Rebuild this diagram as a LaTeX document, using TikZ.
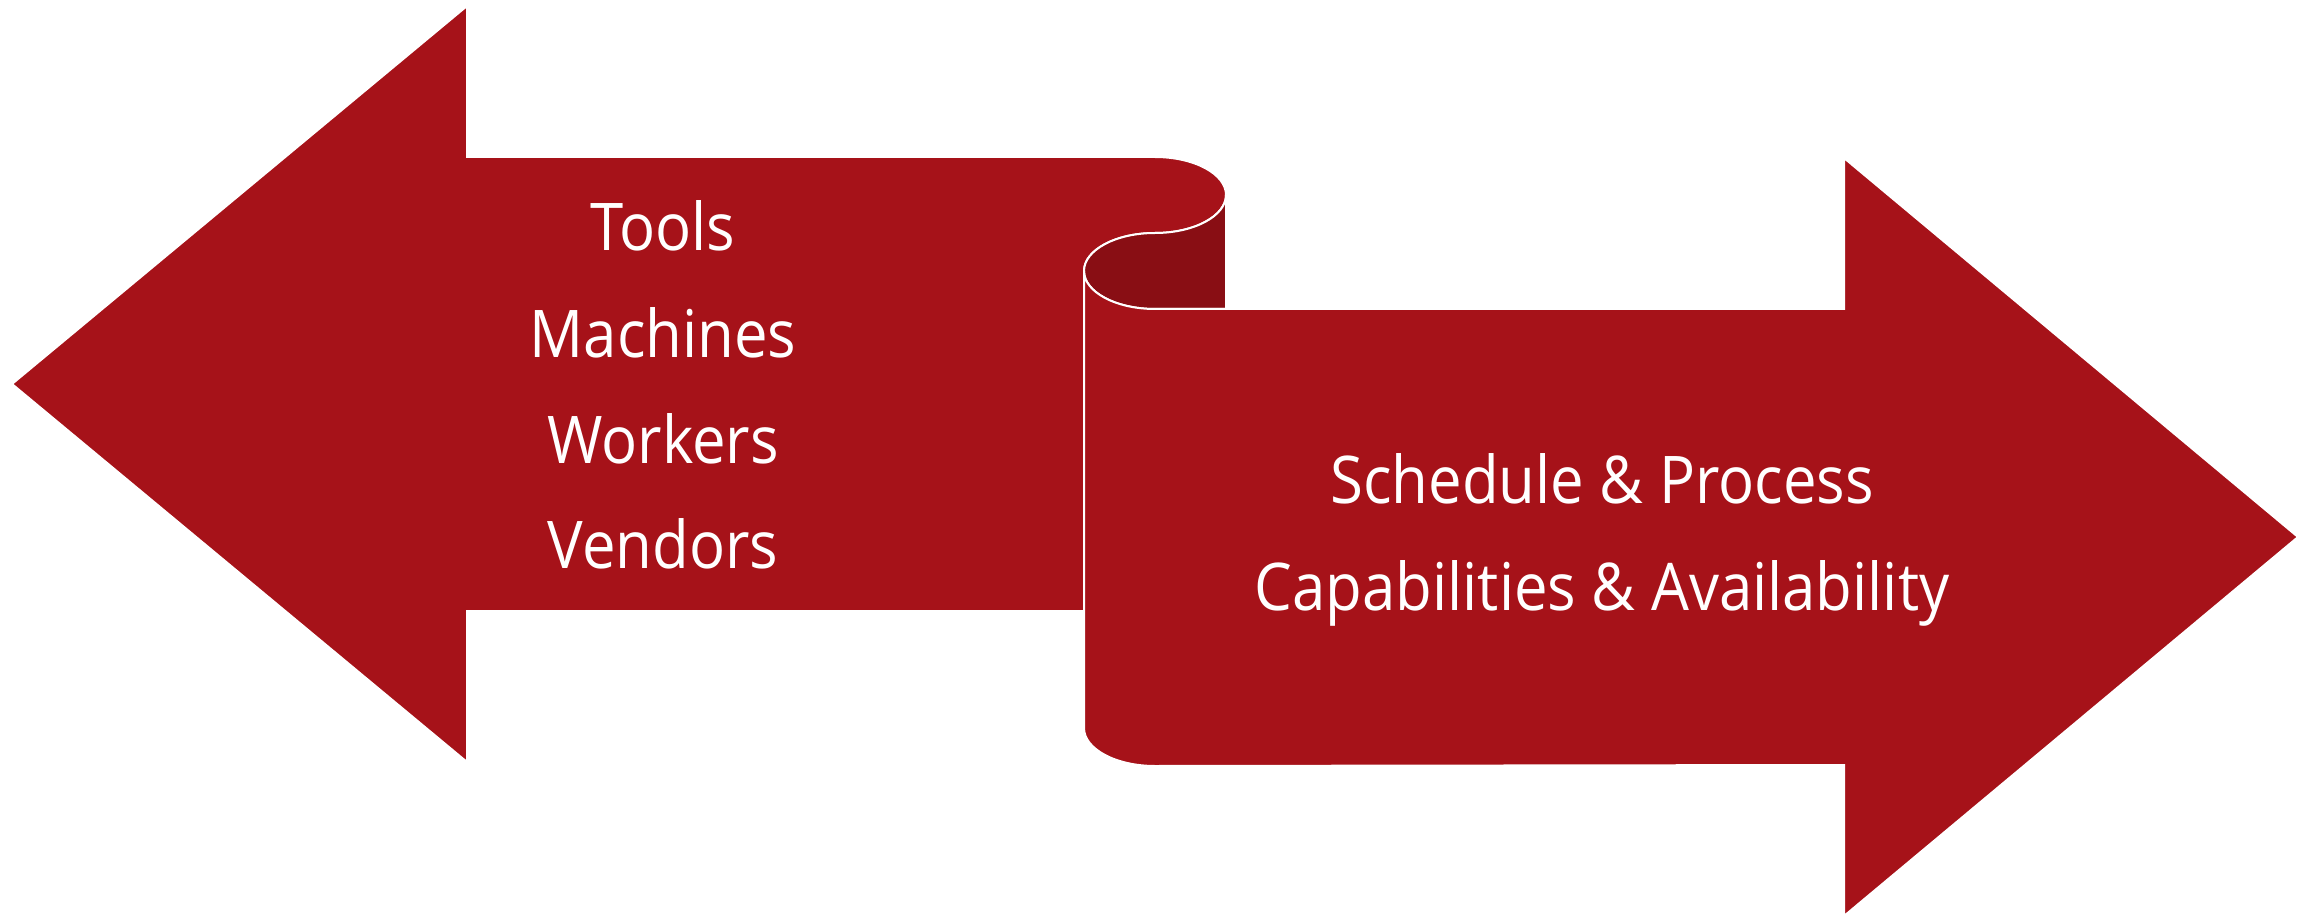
\documentclass[tikz,border=0pt]{standalone}
\usepackage{fontspec}
\setmainfont{Open Sans}[FakeStretch=0.91]
\definecolor{arrowred}{RGB}{166,18,25}
\definecolor{curlred}{RGB}{137,14,20}
\begin{document}
\begin{tikzpicture}[x=1pt,y=-1pt,
  band/.style={fill=arrowred, draw=white, line width=2pt, line join=miter},
  inner/.style={fill=curlred, draw=white, line width=2pt},
  label/.style={text=white, anchor=base, inner sep=0pt,
    font=\fontsize{65.8}{106}\selectfont}]
\useasboundingbox (0,0) rectangle (2318,917);
% left arrow (rolled at its right end)
\path[band] (12,384) -- (467,6) -- (467,157) -- (1155,157)
  arc[start angle=90, end angle=-90, x radius=71pt, y radius=38pt]
  arc[start angle=90, end angle=180, x radius=71pt, y radius=38pt]
  -- (1084,611) -- (467,611) -- (467,762) -- cycle;
% inside of the curl
\path[inner] (1226,195)
  arc[start angle=0, end angle=-90, x radius=71pt, y radius=38pt]
  arc[start angle=90, end angle=270, x radius=71pt, y radius=38pt]
  -- (1226,309) -- cycle;
% right arrow
\path[band] (1155,309)
  arc[start angle=270, end angle=180, x radius=71pt, y radius=38pt]
  -- (1084,728)
  arc[start angle=180, end angle=270, x radius=71pt, y radius=38pt]
  -- (1844,765) -- (1844,916) -- (2298,537) -- (1844,158) -- (1844,309) -- cycle;
% texts
\node[label] (tools)    at (663,251) {Tools};
\node[label] (machines) at (663,357) {Machines};
\node[label] (workers)  at (663,463) {Workers};
\node[label] (vendors)  at (663,568) {Vendors};
\node[label] (sched)    at (1602,503) {Schedule \& Process};
\node[label] (capab)    at (1602,610) {Capabilities \& Availability};
\end{tikzpicture}
\end{document}
